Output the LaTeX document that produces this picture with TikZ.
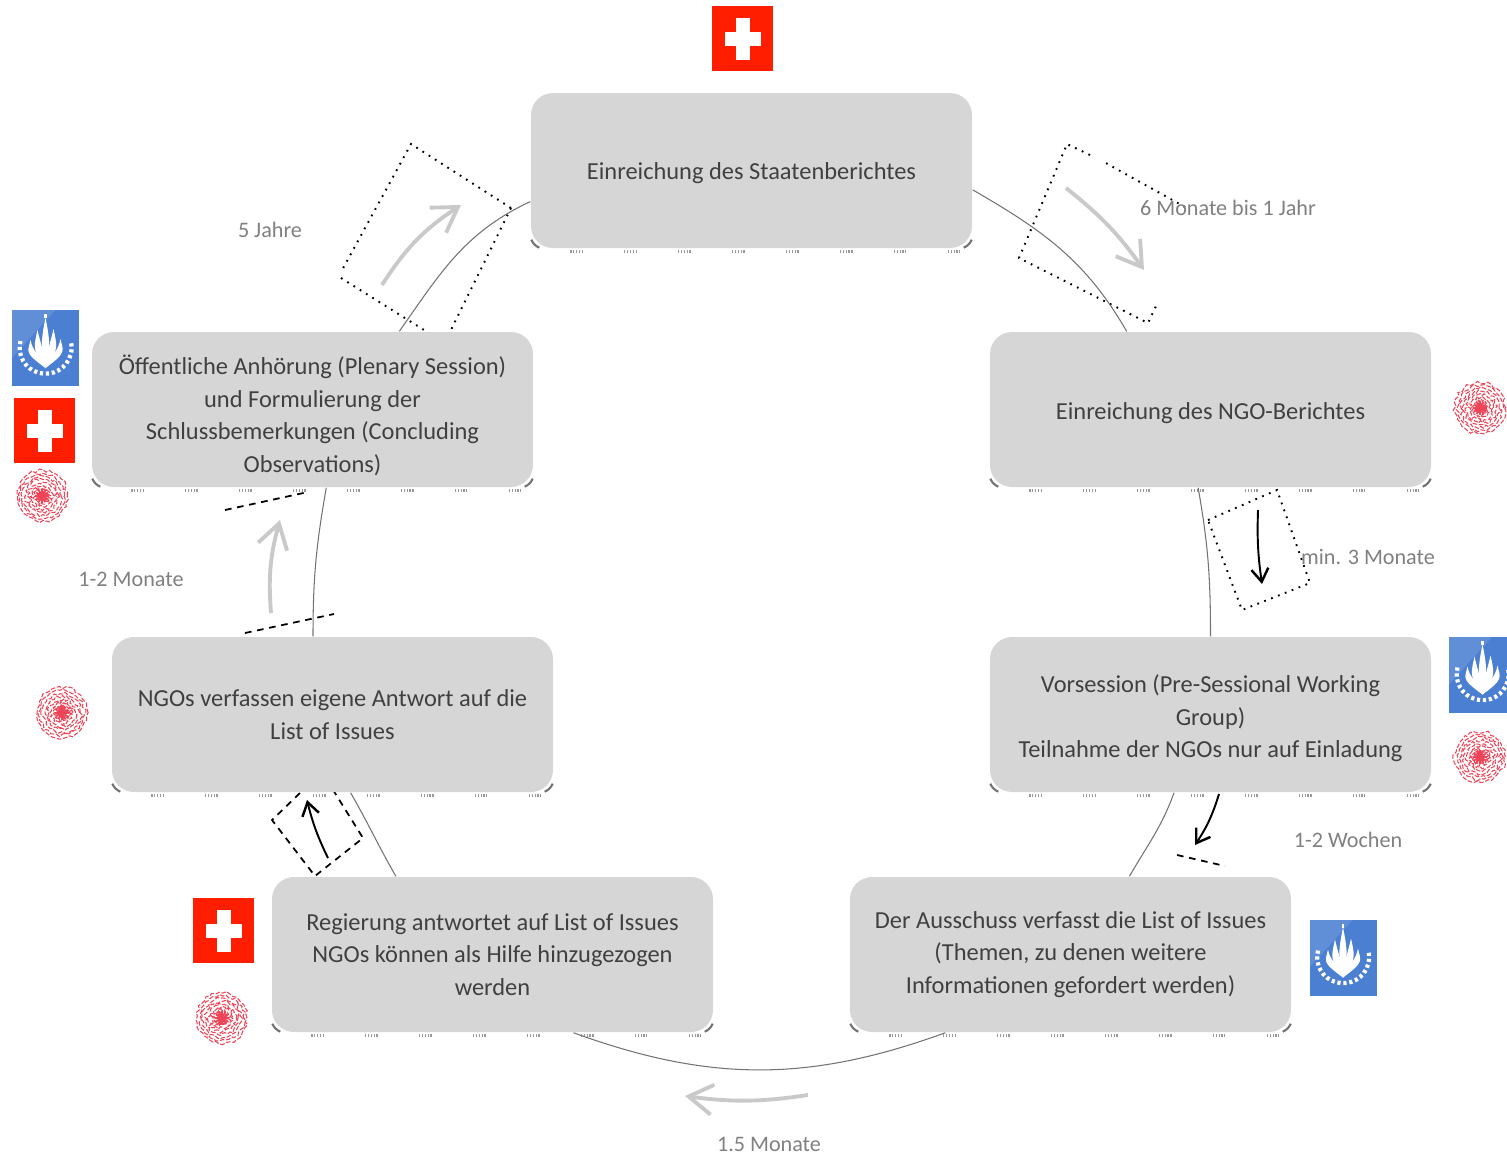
\documentclass[tikz,border=0pt]{standalone}
\usepackage{fontspec}
\setmainfont{Carlito}
\usepackage{xcolor}
\usetikzlibrary{arrows.meta,positioning}
\definecolor{boxgray}{HTML}{D6D6D6}
\definecolor{boxtext}{HTML}{404040}
\definecolor{spantext}{HTML}{808080}
\definecolor{arrowgray}{HTML}{C9C9C9}
\definecolor{flagred}{HTML}{FF1E00}
\definecolor{unblue}{HTML}{4A7FD2}
\definecolor{sealred}{HTML}{EE4458}
\tikzstyle{phasebox} = [fill=boxgray, rounded corners=.22cm, minimum width=4.41cm, minimum height=1.55cm, inner sep=0pt, align=center, text=boxtext, font=\fontsize{6.95}{9.25}\selectfont]
\tikzstyle{spanlabel} = [text=spantext, inner sep=0pt, font=\fontsize{6.3}{8}\selectfont]
\tikzstyle{cycleline} = [draw=black!55, line width=.3pt]
\tikzstyle{grayarrow} = [draw=arrowgray, line width=1.1pt, -{Straight Barb[length=.24cm,width=.3cm,line width=1.1pt]}]
\tikzstyle{blackarrow} = [draw=black, line width=.55pt, -{Straight Barb[length=.13cm,width=.17cm,line width=.7pt]}]
\tikzstyle{dotframe} = [draw=black, line width=.55pt, dash pattern=on .5pt off 1.6pt]
\tikzstyle{dashframe} = [draw=black, line width=.5pt, dash pattern=on 1.9pt off 1.6pt]
\tikzstyle{fringe} = [draw=black!40, line width=1pt, dash pattern=on .35pt off .45pt on .35pt off .45pt on .35pt off .45pt on .35pt off .45pt on .35pt off 11.8pt]
\tikzstyle{cornermark} = [draw=black!55, line width=.6pt]
\tikzset{
  lowered/.style={execute at begin node={\rule{0pt}{#1}}},
  swissflag/.pic={
    \fill[flagred] (-.305,-.325) rectangle (.305,.325);
    \fill[white] (-.07,-.21) rectangle (.07,.21);
    \fill[white] (-.18,-.07) rectangle (.18,.07);
  },
  unlogo/.pic={
    \fill[unblue] (-.335,-.38) rectangle (.335,.38);
    \fill[white,opacity=.12] (-.335,.38) -- (.1,.38) -- (-.335,-.1) -- cycle;
    \foreach \tx/\ty in {-.15/.08,-.08/.18,0/.3,.08/.19,.15/.09} {
      \fill[white] (0,-.2) .. controls ({\tx-.07},-.04) and ({\tx-.025},{\ty-.12}) .. (\tx,\ty) .. controls ({\tx+.025},{\ty-.12}) and ({\tx+.07},-.04) .. (0,-.2);
    }
    \draw[white,line width=1.2pt,dash pattern=on .9pt off .8pt] (-.25,.07) arc (165:375:.26);
    \draw[white,line width=.6pt,dash pattern=on 1pt off 1pt] (0,.3) -- (0,.36);
  },
  ngoseal/.pic={
    \foreach \r in {.255,.225,.195,.165,.135,.105,.075,.045} {
      \draw[sealred,line width=.3pt,dash pattern=on 1.3pt off .5pt] plot[domain=0:360,samples=46,variable=\t] ({(\r+.036*rnd-.018)*cos(\t)},{(\r+.036*rnd-.018)*sin(\t)});
    }
    \foreach \a in {0,30,...,330} {
      \draw[sealred,line width=.5pt] (0,0) -- (\a:.07);
    }
  }
}
\begin{document}
\begin{tikzpicture}
  			\useasboundingbox (0,0) rectangle (15.07,-11.54);
  			\pgfmathsetseed{17}
  			
  			% frames, the boxes lie over them
  			\draw[dotframe] (5.11,-2.08) -- (4.11,-1.44) -- (3.41,-2.72);
  			\draw[dotframe] (3.41,-2.78) -- (4.40,-3.40);
  			\draw[dotframe] (5.11,-2.08) -- (4.46,-3.40);
  			\draw[dotframe] (11.85,-2.07) -- (11.04,-1.62);
  			\draw[dotframe] (10.90,-1.55) -- (10.67,-1.44) -- (10.19,-2.58) -- (11.48,-3.23) -- (11.56,-3.06);
  			\draw[dotframe] (12.08,-5.20) -- (12.77,-4.90) -- (13.10,-5.83) -- (12.42,-6.10) -- cycle;
  			\draw[dashframe] (3.00,-7.93) -- (2.72,-8.20) -- (3.15,-8.76) -- (3.63,-8.38) -- (3.30,-7.85);
  			\draw[dashframe] (2.25,-5.10) -- (3.08,-4.92); 
  			\draw[dashframe] (2.45,-6.33) -- (3.34,-6.14);
  			\draw[dashframe] (11.77,-8.55) -- (12.25,-8.66);
  			
  			% phases, clockwise from the top
  			\node[phasebox,lowered=.22cm] (state) at (7.515,-1.705) {Einreichung des Staatenberichtes};
  			\node[phasebox,lowered=.24cm] (ngoreport) at (12.105,-4.095) {Einreichung des NGO-Berichtes};
  			\node[phasebox,text height=.91cm] (presession) at (12.105,-7.145) {Vorsession (Pre-Sessional Working\\Group)\\Teilnahme der NGOs nur auf Einladung};
  			\node[phasebox] (committee) at (10.705,-9.545) {Der Ausschuss verfasst die List of Issues\\(Themen, zu denen weitere\\Informationen gefordert werden)};
  			\node[phasebox] (government) at (4.925,-9.545) {Regierung antwortet auf List of Issues\\NGOs können als Hilfe hinzugezogen\\werden};
  			\node[phasebox] (response) at (3.325,-7.145) {NGOs verfassen eigene Antwort auf die\\List of Issues};
  			\node[phasebox,text height=1.29cm] (plenary) at (3.125,-4.095) {Öffentliche Anhörung (Plenary Session)\\und Formulierung der\\Schlussbemerkungen (Concluding\\Observations)};
  			
  			\foreach \b in {state,ngoreport,presession,committee,government,response,plenary} {
  			  \draw[fringe] ([shift={(.4,-.03)}]\b.south west) -- ([shift={(-.1,-.03)}]\b.south east);
  			  \draw[cornermark] ([shift={(.01,.09)}]\b.south west) to[bend right=20] ([shift={(.09,.01)}]\b.south west);
  			  \draw[cornermark] ([shift={(-.01,.09)}]\b.south east) to[bend left=20] ([shift={(-.09,.01)}]\b.south east);
  			}
  			
  			% the big circle
  			\draw[cycleline] (state.-5) to[out=-30,in=120] (ngoreport.137);
  			\draw[cycleline] (ngoreport.261) to[out=-80,in=90] (presession.90);
  			\draw[cycleline] (presession.245) to[out=-110,in=60] (committee.53);
  			\draw[cycleline] (committee.212) to[out=-160,in=-20] (government.-44);
  			\draw[cycleline] (government.141.5) to[out=120,in=-60] (response.-77);
  			\draw[cycleline] (response.104) to[out=90,in=-100] (plenary.-80);
  			\draw[cycleline] (plenary.42.5) to[out=55,in=205] (state.188.5);
  			
  			% free arrows
  			\coordinate (a1) at (3.82,-2.85); \coordinate (a2) at (4.61,-2.05);
  			\coordinate (b1) at (10.66,-1.88); \coordinate (b2) at (11.44,-2.70);
  			\coordinate (c1) at (2.71,-6.13); \coordinate (c2) at (2.80,-5.20);
  			\coordinate (d1) at (8.08,-10.95); \coordinate (d2) at (6.85,-10.96);
  			\coordinate (e1) at (12.58,-5.10); \coordinate (e2) at (12.62,-5.84);
  			\coordinate (f1) at (12.19,-7.94); \coordinate (f2) at (11.95,-8.45);
  			\coordinate (g1) at (3.28,-8.58); \coordinate (g2) at (3.07,-8.00);
  			\draw[grayarrow] (a1) to[bend left=12] (a2);
  			\draw[grayarrow] (b1) to[bend left=8] (b2);
  			\draw[grayarrow] (c1) to[bend left=10] (c2);
  			\draw[grayarrow] (d1) to[bend left=8] (d2);
  			\draw[blackarrow] (e1) to[bend right=5] (e2);
  			\draw[blackarrow] (f1) to[bend left=8] (f2);
  			\draw[blackarrow] (g1) to[bend left=6] (g2);
  			
  			% time spans
  			\node[spanlabel] (span5y) at (2.70,-2.30) {5 Jahre};
  			\node[spanlabel] (span6m) at (12.28,-2.08) {6 Monate bis 1 Jahr};
  			\node[spanlabel] (span3m) at (13.68,-5.57) {min. 3 Monate};
  			\node[spanlabel] (span2w) at (13.48,-8.40) {1-2 Wochen};
  			\node[spanlabel] (span15m) at (7.69,-11.44) {1.5 Monate};
  			\node[spanlabel] (span2m) at (1.31,-5.79) {1-2 Monate};
  			
  			% who is involved
  			\pic (flagstate) at (7.425,-.385) {swissflag};
  			\pic (flagplenary) at (.445,-4.305) {swissflag};
  			\pic (flaggov) at (2.235,-9.305) {swissflag};
  			\pic (unplenary) at (.455,-3.48) {unlogo};
  			\pic (unpre) at (14.825,-6.745) {unlogo};
  			\pic (uncommittee) at (13.43,-9.575) {unlogo};
  			\pic (sealreport) at (14.80,-4.08) {ngoseal};
  			\pic (sealplenary) at (.42,-4.96) {ngoseal};
  			\pic (sealresponse) at (.62,-7.13) {ngoseal};
  			\pic (sealpre) at (14.80,-7.57) {ngoseal};
  			\pic (sealgov) at (2.22,-10.18) {ngoseal};
\end{tikzpicture}
\end{document}
